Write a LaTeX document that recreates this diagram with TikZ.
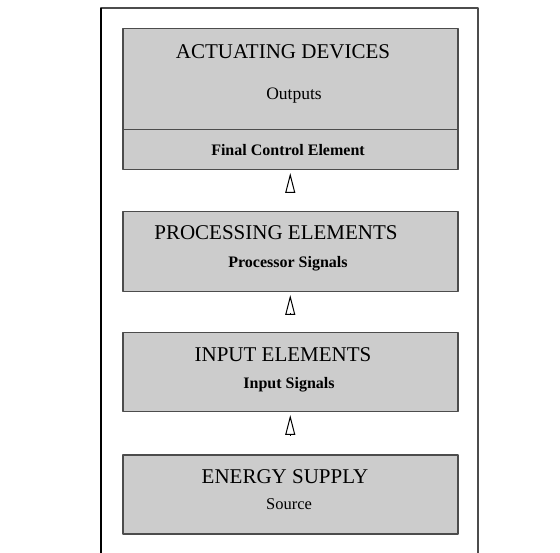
\documentclass[tikz,border=0pt]{standalone}
\usepackage{fontspec}
\setmainfont{Liberation Serif}
\usetikzlibrary{arrows.meta}
\begin{document}
\begin{tikzpicture}[x=1pt,y=-1pt,line join=round,
	khoi/.style={draw=black!70,line width=1.5pt,fill=black!20,minimum width=335pt,inner sep=0pt,anchor=north west},
	tieude/.style={anchor=base,inner sep=0pt,font=\fontsize{21}{23}\selectfont},
	phude/.style={anchor=base,inner sep=0pt,font=\bfseries\fontsize{16}{18}\selectfont},
	muiten/.style={-{Triangle[open,length=20pt,width=10pt]},line width=1pt,shorten <=19pt,shorten >=2.5pt}]
	\useasboundingbox (0,0) rectangle (560,553);
	% khung ngoai
	\draw[black!70,line width=1.4pt] (101,553)--(101,8)--(478,8)--(478,553);
	\draw[black,line width=2pt] (101,8)--(101,553);
	% cac khoi
	\node[khoi,minimum height=101pt] (act) at (122,28) {};
	\node[khoi,minimum height=40pt] (fce) at (122,129) {};
	\node[khoi,minimum height=80pt] (proc) at (122,211) {};
	\node[khoi,minimum height=79pt] (inp) at (122,332) {};
	\node[khoi,minimum height=79pt] (nrg) at (122,454) {};
	% chu
	\node[tieude] (tact) at (283,58.5) {ACTUATING DEVICES};
	\node[phude,font=\fontsize{17.5}{19}\selectfont] (tout) at (294,100) {Outputs};
	\node[phude] (tfce) at (288,156) {Final Control Element};
	\node[tieude] (tproc) at (276,240) {PROCESSING ELEMENTS};
	\node[phude] (tsig) at (288,268) {Processor Signals};
	\node[tieude] (tinp) at (283,362) {INPUT ELEMENTS};
	\node[phude] (tisig) at (289,389) {Input Signals};
	\node[tieude] (tnrg) at (285,483) {ENERGY SUPPLY};
	\node[phude,font=\fontsize{16.5}{18}\selectfont] (tsrc) at (289,509) {Source};
	% mui ten
	\foreach \a/\b in {proc/fce,inp/proc,nrg/inp}
	\draw[muiten] (\a.north)--(\b.south);
\end{tikzpicture}
\end{document}
